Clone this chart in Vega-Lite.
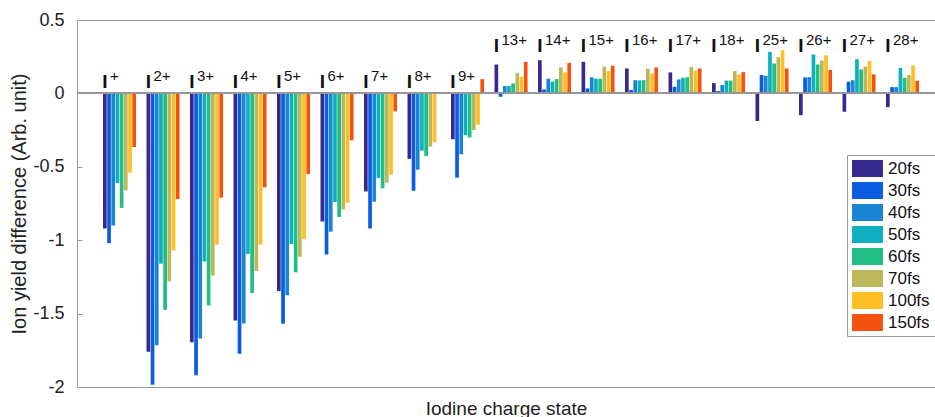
{
"$schema": "https://vega.github.io/schema/vega-lite/v6.json",
"width": 858, "height": 367,
"autosize": {"type": "none"},
"padding": {"left": 77, "top": 20, "right": 0, "bottom": 30},
"background": "white",
"config": {"font": "Liberation Sans", "view": {"stroke": "#999", "strokeWidth": 1}},
"data": {"values": [
{"q":"1","p":"20fs","v":-0.92},{"q":"1","p":"30fs","v":-1.02},{"q":"1","p":"40fs","v":-0.9},{"q":"1","p":"50fs","v":-0.61},{"q":"1","p":"60fs","v":-0.78},{"q":"1","p":"70fs","v":-0.66},{"q":"1","p":"100fs","v":-0.54},{"q":"1","p":"150fs","v":-0.365},
{"q":"2","p":"20fs","v":-1.76},{"q":"2","p":"30fs","v":-1.985},{"q":"2","p":"40fs","v":-1.715},{"q":"2","p":"50fs","v":-1.16},{"q":"2","p":"60fs","v":-1.475},{"q":"2","p":"70fs","v":-1.28},{"q":"2","p":"100fs","v":-1.07},{"q":"2","p":"150fs","v":-0.72},
{"q":"3","p":"20fs","v":-1.695},{"q":"3","p":"30fs","v":-1.92},{"q":"3","p":"40fs","v":-1.67},{"q":"3","p":"50fs","v":-1.145},{"q":"3","p":"60fs","v":-1.445},{"q":"3","p":"70fs","v":-1.24},{"q":"3","p":"100fs","v":-1.03},{"q":"3","p":"150fs","v":-0.71},
{"q":"4","p":"20fs","v":-1.547},{"q":"4","p":"30fs","v":-1.773},{"q":"4","p":"40fs","v":-1.567},{"q":"4","p":"50fs","v":-1.094},{"q":"4","p":"60fs","v":-1.36},{"q":"4","p":"70fs","v":-1.21},{"q":"4","p":"100fs","v":-1.03},{"q":"4","p":"150fs","v":-0.64},
{"q":"5","p":"20fs","v":-1.347},{"q":"5","p":"30fs","v":-1.569},{"q":"5","p":"40fs","v":-1.375},{"q":"5","p":"50fs","v":-1.026},{"q":"5","p":"60fs","v":-1.218},{"q":"5","p":"70fs","v":-1.112},{"q":"5","p":"100fs","v":-0.992},{"q":"5","p":"150fs","v":-0.55},
{"q":"6","p":"20fs","v":-0.872},{"q":"6","p":"30fs","v":-1.098},{"q":"6","p":"40fs","v":-0.942},{"q":"6","p":"50fs","v":-0.74},{"q":"6","p":"60fs","v":-0.842},{"q":"6","p":"70fs","v":-0.79},{"q":"6","p":"100fs","v":-0.745},{"q":"6","p":"150fs","v":-0.32},
{"q":"7","p":"20fs","v":-0.668},{"q":"7","p":"30fs","v":-0.92},{"q":"7","p":"40fs","v":-0.738},{"q":"7","p":"50fs","v":-0.577},{"q":"7","p":"60fs","v":-0.646},{"q":"7","p":"70fs","v":-0.607},{"q":"7","p":"100fs","v":-0.553},{"q":"7","p":"150fs","v":-0.122},
{"q":"8","p":"20fs","v":-0.446},{"q":"8","p":"30fs","v":-0.663},{"q":"8","p":"40fs","v":-0.52},{"q":"8","p":"50fs","v":-0.39},{"q":"8","p":"60fs","v":-0.426},{"q":"8","p":"70fs","v":-0.362},{"q":"8","p":"100fs","v":-0.333},{"q":"8","p":"150fs","v":0.006},
{"q":"9","p":"20fs","v":-0.312},{"q":"9","p":"30fs","v":-0.574},{"q":"9","p":"40fs","v":-0.415},{"q":"9","p":"50fs","v":-0.285},{"q":"9","p":"60fs","v":-0.3},{"q":"9","p":"70fs","v":-0.25},{"q":"9","p":"100fs","v":-0.212},{"q":"9","p":"150fs","v":0.097},
{"q":"13","p":"20fs","v":0.197},{"q":"13","p":"30fs","v":-0.023},{"q":"13","p":"40fs","v":0.05},{"q":"13","p":"50fs","v":0.05},{"q":"13","p":"60fs","v":0.068},{"q":"13","p":"70fs","v":0.14},{"q":"13","p":"100fs","v":0.113},{"q":"13","p":"150fs","v":0.215},
{"q":"14","p":"20fs","v":0.226},{"q":"14","p":"30fs","v":0.027},{"q":"14","p":"40fs","v":0.1},{"q":"14","p":"50fs","v":0.08},{"q":"14","p":"60fs","v":0.097},{"q":"14","p":"70fs","v":0.177},{"q":"14","p":"100fs","v":0.143},{"q":"14","p":"150fs","v":0.208},
{"q":"15","p":"20fs","v":0.215},{"q":"15","p":"30fs","v":0.034},{"q":"15","p":"40fs","v":0.11},{"q":"15","p":"50fs","v":0.1},{"q":"15","p":"60fs","v":0.1},{"q":"15","p":"70fs","v":0.183},{"q":"15","p":"100fs","v":0.152},{"q":"15","p":"150fs","v":0.188},
{"q":"16","p":"20fs","v":0.17},{"q":"16","p":"30fs","v":0.023},{"q":"16","p":"40fs","v":0.09},{"q":"16","p":"50fs","v":0.088},{"q":"16","p":"60fs","v":0.09},{"q":"16","p":"70fs","v":0.168},{"q":"16","p":"100fs","v":0.136},{"q":"16","p":"150fs","v":0.177},
{"q":"17","p":"20fs","v":0.143},{"q":"17","p":"30fs","v":0.045},{"q":"17","p":"40fs","v":0.095},{"q":"17","p":"50fs","v":0.106},{"q":"17","p":"60fs","v":0.11},{"q":"17","p":"70fs","v":0.179},{"q":"17","p":"100fs","v":0.154},{"q":"17","p":"150fs","v":0.17},
{"q":"18","p":"20fs","v":0.07},{"q":"18","p":"30fs","v":0.016},{"q":"18","p":"40fs","v":0.057},{"q":"18","p":"50fs","v":0.087},{"q":"18","p":"60fs","v":0.087},{"q":"18","p":"70fs","v":0.152},{"q":"18","p":"100fs","v":0.128},{"q":"18","p":"150fs","v":0.145},
{"q":"25","p":"20fs","v":-0.188},{"q":"25","p":"30fs","v":0.125},{"q":"25","p":"40fs","v":0.12},{"q":"25","p":"50fs","v":0.283},{"q":"25","p":"60fs","v":0.204},{"q":"25","p":"70fs","v":0.247},{"q":"25","p":"100fs","v":0.294},{"q":"25","p":"150fs","v":0.17},
{"q":"26","p":"20fs","v":-0.148},{"q":"26","p":"30fs","v":0.109},{"q":"26","p":"40fs","v":0.111},{"q":"26","p":"50fs","v":0.265},{"q":"26","p":"60fs","v":0.197},{"q":"26","p":"70fs","v":0.224},{"q":"26","p":"100fs","v":0.26},{"q":"26","p":"150fs","v":0.16},
{"q":"27","p":"20fs","v":-0.125},{"q":"27","p":"30fs","v":0.08},{"q":"27","p":"40fs","v":0.09},{"q":"27","p":"50fs","v":0.233},{"q":"27","p":"60fs","v":0.163},{"q":"27","p":"70fs","v":0.183},{"q":"27","p":"100fs","v":0.22},{"q":"27","p":"150fs","v":0.13},
{"q":"28","p":"20fs","v":-0.093},{"q":"28","p":"30fs","v":0.043},{"q":"28","p":"40fs","v":0.043},{"q":"28","p":"50fs","v":0.174},{"q":"28","p":"60fs","v":0.106},{"q":"28","p":"70fs","v":0.125},{"q":"28","p":"100fs","v":0.19},{"q":"28","p":"150fs","v":0.086}
]},
"layer": [
{
"mark": {"type": "bar"},
"encoding": {
"x": {"field": "q", "type": "nominal",
 "scale": {"domain": ["1","2","3","4","5","6","7","8","9","13","14","15","16","17","18","25","26","27","28"], "paddingInner": 0.24, "paddingOuter": 0.482, "align": 0.62},
 "axis": {"title": "Iodine charge state", "labels": false, "ticks": false, "domain": false, "titleFontSize": 19, "titleFontWeight": "normal", "titleColor": "#222", "titlePadding": 12}},
"xOffset": {"field": "p", "type": "nominal", "scale": {"domain": ["20fs","30fs","40fs","50fs","60fs","70fs","100fs","150fs"], "paddingInner": 0.12}},
"y": {"field": "v", "type": "quantitative", "title": "Ion yield difference (Arb. unit)",
 "scale": {"domain": [-2, 0.5], "nice": false},
 "axis": {"values": [-2,-1.5,-1,-0.5,0,0.5], "labelExpr": "'' + datum.value", "labelFontSize": 18, "labelColor": "#222", "tickSize": -5, "tickColor": "#999", "domainColor": "#999", "labelPadding": 18, "titleFontSize": 20, "titleFontWeight": "normal", "titleColor": "#222", "titlePadding": 3, "grid": false}},
"color": {"field": "p", "type": "nominal",
 "scale": {"domain": ["20fs","30fs","40fs","50fs","60fs","70fs","100fs","150fs"], "range": ["#37298e","#0b5ddf","#1a85d4","#0eb0c0","#22be83","#bbb75a","#fdbf24","#f6520f"]},
 "legend": {"title": null, "orient": "none", "legendX": 770, "legendY": 135, "symbolType": "M-1.82,-1H1.82V1H-1.82Z", "symbolSize": 289, "symbolOffset": 7, "symbolStrokeWidth": 0, "symbolOpacity": 1, "labelFontSize": 17, "labelColor": "#111", "labelOffset": 12, "rowPadding": 4, "padding": 5, "strokeColor": "#999", "fillColor": "white"}}
}
},
{
"mark": {"type": "rule", "color": "#999", "strokeWidth": 1},
"encoding": {"y": {"datum": 0, "type": "quantitative", "title": "Ion yield difference (Arb. unit)"}}
},
{
"transform": [{"filter": "datum.p === '20fs'"}, {"calculate": "toNumber(datum.q) >= 13 ? 0.284 : 0.036", "as": "ly"}],
"mark": {"type": "text", "text": "I", "fontWeight": "bold", "fontSize": 19, "align": "center", "baseline": "alphabetic", "dx": 2, "color": "#111"},
"encoding": {
"x": {"field": "q", "type": "nominal", "bandPosition": 0, "scale": {"domain": ["1","2","3","4","5","6","7","8","9","13","14","15","16","17","18","25","26","27","28"], "paddingInner": 0.24, "paddingOuter": 0.482, "align": 0.62}},
"y": {"field": "ly", "type": "quantitative", "title": "Ion yield difference (Arb. unit)"}
}
},
{
"transform": [{"filter": "datum.p === '20fs'"}, {"calculate": "toNumber(datum.q) >= 13 ? 0.284 : 0.036", "as": "ly"}, {"calculate": "datum.q === '1' ? '+' : datum.q + '+'", "as": "sup"}],
"mark": {"type": "text", "fontSize": 15, "align": "left", "baseline": "alphabetic", "dx": 7, "dy": -7, "color": "#111"},
"encoding": {
"x": {"field": "q", "type": "nominal", "bandPosition": 0, "scale": {"domain": ["1","2","3","4","5","6","7","8","9","13","14","15","16","17","18","25","26","27","28"], "paddingInner": 0.24, "paddingOuter": 0.482, "align": 0.62}},
"y": {"field": "ly", "type": "quantitative", "title": "Ion yield difference (Arb. unit)"},
"text": {"field": "sup"}
}
}
]
}
